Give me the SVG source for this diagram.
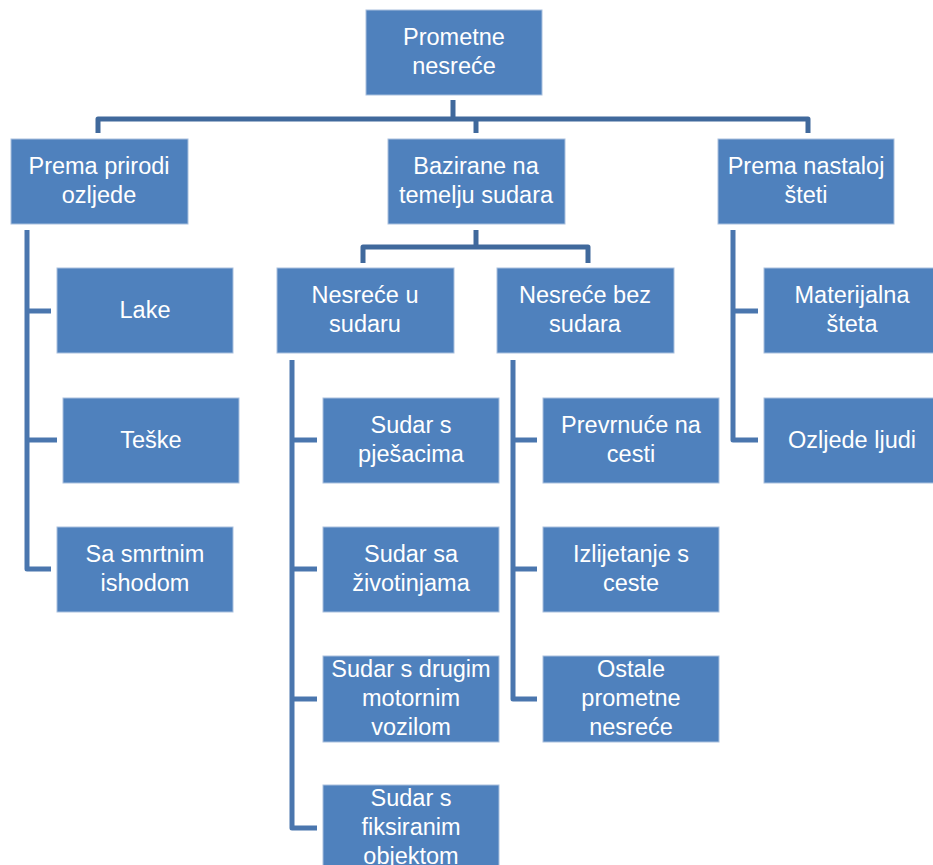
<svg xmlns="http://www.w3.org/2000/svg" width="933" height="865" viewBox="0 0 933 865">
<style>
.box{fill:#4F81BD;stroke:#A9C0DE;stroke-width:1}
.t{font-family:"Liberation Sans",Arial,sans-serif;font-size:23.5px;fill:#FFFFFF;text-anchor:middle}
.c{fill:none;stroke:#4A76AE;stroke-width:5;stroke-linejoin:round}
.ct{fill:none;stroke:#40699C;stroke-width:5;stroke-linejoin:round}
</style>
<rect width="933" height="865" fill="#FFFFFF"/>
<g id="connectors">
<path class="ct" d="M453,100 V119"/>
<path class="ct" d="M98,133 V119 H808 V133"/>
<path class="ct" d="M476,119 V133"/>
<path class="ct" d="M476,230 V247"/>
<path class="ct" d="M363,263 V247 H588 V263"/>
<path class="c" d="M27,230 V569 H51"/>
<path class="c" d="M27,311 H51"/>
<path class="c" d="M27,440 H57"/>
<path class="c" d="M292,360 V828 H317"/>
<path class="c" d="M292,440 H317"/>
<path class="c" d="M292,569 H317"/>
<path class="c" d="M292,699 H317"/>
<path class="c" d="M513,360 V699 H537"/>
<path class="c" d="M513,440 H537"/>
<path class="c" d="M513,569 H537"/>
<path class="c" d="M733,230 V440 H758"/>
<path class="c" d="M733,311 H758"/>
</g>
<g id="n-root"><rect class="box" x="366" y="10" width="176" height="85"/><text class="t" x="454" y="45">Prometne</text><text class="t" x="454" y="74">nesreće</text></g>
<g id="n-priroda"><rect class="box" x="11" y="139" width="177" height="85"/><text class="t" x="99" y="174">Prema prirodi</text><text class="t" x="99" y="203">ozljede</text></g>
<g id="n-bazirane"><rect class="box" x="388" y="139" width="177" height="85"/><text class="t" x="476" y="174">Bazirane na</text><text class="t" x="476" y="203">temelju sudara</text></g>
<g id="n-steta"><rect class="box" x="718" y="139" width="176" height="85"/><text class="t" x="806" y="174">Prema nastaloj</text><text class="t" x="806" y="203">šteti</text></g>
<g id="n-lake"><rect class="box" x="57" y="268" width="176" height="85"/><text class="t" x="145" y="318">Lake</text></g>
<g id="n-teske"><rect class="box" x="63" y="398" width="176" height="85"/><text class="t" x="151" y="448">Teške</text></g>
<g id="n-smrtnim"><rect class="box" x="57" y="527" width="176" height="85"/><text class="t" x="145" y="562">Sa smrtnim</text><text class="t" x="145" y="591">ishodom</text></g>
<g id="n-usudaru"><rect class="box" x="277" y="268" width="177" height="85"/><text class="t" x="365" y="303">Nesreće u</text><text class="t" x="365" y="332">sudaru</text></g>
<g id="n-bezsudara"><rect class="box" x="497" y="268" width="177" height="85"/><text class="t" x="585" y="303">Nesreće bez</text><text class="t" x="585" y="332">sudara</text></g>
<g id="n-materijalna"><rect class="box" x="764" y="268" width="177" height="85"/><text class="t" x="852" y="303">Materijalna</text><text class="t" x="852" y="332">šteta</text></g>
<g id="n-ozljede"><rect class="box" x="764" y="398" width="177" height="85"/><text class="t" x="852" y="448">Ozljede ljudi</text></g>
<g id="n-pjesacima"><rect class="box" x="323" y="398" width="176" height="85"/><text class="t" x="411" y="433">Sudar s</text><text class="t" x="411" y="462">pješacima</text></g>
<g id="n-zivotinjama"><rect class="box" x="323" y="527" width="176" height="85"/><text class="t" x="411" y="562">Sudar sa</text><text class="t" x="411" y="591">životinjama</text></g>
<g id="n-drugim"><rect class="box" x="323" y="656" width="176" height="86"/><text class="t" x="411" y="677">Sudar s drugim</text><text class="t" x="411" y="706">motornim</text><text class="t" x="411" y="735">vozilom</text></g>
<g id="n-fiksiranim"><rect class="box" x="323" y="785" width="176" height="86"/><text class="t" x="411" y="806">Sudar s</text><text class="t" x="411" y="835">fiksiranim</text><text class="t" x="411" y="864">objektom</text></g>
<g id="n-prevrnuce"><rect class="box" x="543" y="398" width="176" height="85"/><text class="t" x="631" y="433">Prevrnuće na</text><text class="t" x="631" y="462">cesti</text></g>
<g id="n-izlijetanje"><rect class="box" x="543" y="527" width="176" height="85"/><text class="t" x="631" y="562">Izlijetanje s</text><text class="t" x="631" y="591">ceste</text></g>
<g id="n-ostale"><rect class="box" x="543" y="656" width="176" height="86"/><text class="t" x="631" y="677">Ostale</text><text class="t" x="631" y="706">prometne</text><text class="t" x="631" y="735">nesreće</text></g>
</svg>
